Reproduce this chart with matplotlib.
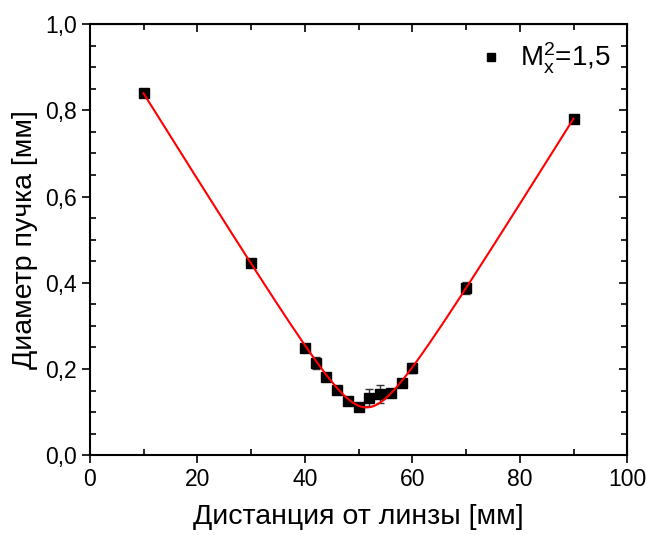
import numpy as np
import matplotlib
matplotlib.use("Agg")
import matplotlib.pyplot as plt
from matplotlib.lines import Line2D
from matplotlib.ticker import MultipleLocator, FuncFormatter

# measured beam diameter vs distance from lens
distance = [10, 30, 40, 42, 44, 46, 48, 50, 52, 54, 56, 58, 60, 70, 90]
diameter = [0.840, 0.446, 0.248, 0.214, 0.182, 0.152, 0.127, 0.113,
            0.134, 0.142, 0.145, 0.168, 0.203, 0.388, 0.780]
diameter_err = [0.004, 0.004, 0.005, 0.013, 0.006, 0.005, 0.004, 0.005,
                0.020, 0.020, 0.006, 0.006, 0.012, 0.014, 0.004]

x_ticks = [0, 20, 40, 60, 80, 100]
y_ticks = [0.0, 0.2, 0.4, 0.6, 0.8, 1.0]

plt.rcParams['font.family'] = ['Liberation Sans', 'DejaVu Sans']

fig = plt.figure(figsize=(6.46, 5.35), dpi=100)
ax = fig.add_axes([0.139, 0.149, 0.832, 0.806])

# gaussian beam fit: D^2 is quadratic in z
x = np.array(distance, dtype=float)
y = np.array(diameter, dtype=float)
coef = np.polyfit(x, y ** 2, 2)
zz = np.linspace(min(distance), max(distance), 400)
ax.plot(zz, np.sqrt(np.polyval(coef, zz)), color="red", lw=1.5, zorder=3)

ax.errorbar(distance, diameter, yerr=diameter_err, fmt="s", color="black",
            ms=7, ecolor="#333333", elinewidth=1, capsize=3, capthick=1,
            zorder=2)

ax.set_xlim(0, 100)
ax.set_ylim(0, 1.0)
ax.set_xticks(x_ticks)
ax.set_yticks(y_ticks)
ax.xaxis.set_minor_locator(MultipleLocator(10))
ax.yaxis.set_minor_locator(MultipleLocator(0.05))
ax.yaxis.set_major_formatter(FuncFormatter(lambda v, p: f"{v:.1f}".replace(".", ",")))

ax.tick_params(which="major", direction="out", length=6, width=1.2, labelsize=16.5)
ax.tick_params(which="minor", direction="in", length=4, width=1.2)
for s in ax.spines.values():
    s.set_linewidth(1.5)

top = ax.secondary_xaxis("top")
top.set_xticks(x_ticks)
top.xaxis.set_minor_locator(MultipleLocator(10))
top.tick_params(which="both", direction="in", labeltop=False)
top.tick_params(which="major", length=6, width=1.2)
top.tick_params(which="minor", length=4, width=1.2)
right = ax.secondary_yaxis("right")
right.set_yticks(y_ticks)
right.yaxis.set_minor_locator(MultipleLocator(0.05))
right.tick_params(which="both", direction="in", labelright=False)
right.tick_params(which="major", length=6, width=1.2)
right.tick_params(which="minor", length=4, width=1.2)

ax.set_xlabel("Дистанция от линзы [мм]", fontsize=20.5, labelpad=9)
ax.set_ylabel("Диаметр пучка [мм]", fontsize=20.5, labelpad=5)

handle = Line2D([], [], marker="s", ls="none", color="black", ms=6)
ax.legend([handle], [r"$\mathregular{M_x^2}$=1,5"], loc="upper right",
          frameon=False, fontsize=20, handletextpad=0.3, handlelength=1.5,
          borderaxespad=0.2)

fig.savefig("out.png", dpi=100)
